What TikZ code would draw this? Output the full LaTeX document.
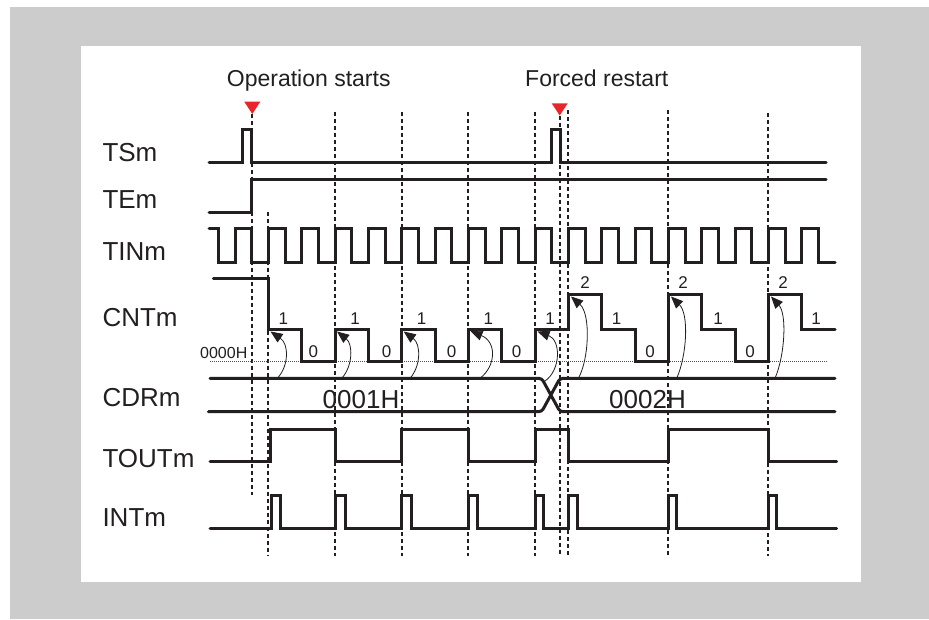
\documentclass[tikz,border=0pt]{standalone}
\usepackage{fontspec}
\setmainfont{Liberation Sans}
\usetikzlibrary{arrows.meta}
\definecolor{framegray}{RGB}{204,204,204}
\definecolor{ink}{RGB}{35,31,32}
\definecolor{mark}{RGB}{232,38,42}
\tikzset{
  sig/.style={draw=ink, line width=3pt, line cap=round, line join=miter},
  dline/.style={draw=ink, line width=1.7pt, dash pattern=on 4pt off 3pt},
  zline/.style={draw=ink!80, line width=0.7pt, dash pattern=on 1pt off 1pt},
  reload/.style={draw=ink, line width=0.8pt, -{Triangle[length=12pt,width=10pt]}},
  siglabel/.style={anchor=base west, inner sep=0pt, text=ink, font=\fontsize{26}{30}\selectfont},
  toplabel/.style={anchor=base west, inner sep=0pt, text=ink, font=\fontsize{23}{27}\selectfont},
  lvl/.style={anchor=center, inner sep=0pt, text=ink, font=\fontsize{17}{19}\selectfont},
  bigval/.style={anchor=base, inner sep=0pt, text=ink, font=\fontsize{26}{30}\selectfont},
  trig/.style={fill=mark, draw=none}
}
\begin{document}
\begin{tikzpicture}[x=1pt,y=-1pt]
\useasboundingbox (0,0) rectangle (929,619);
\fill[white] (0,0) rectangle (929,619);
\fill[framegray] (10,6.7) rectangle (929,619);
\fill[white] (80.7,45.7) rectangle (860.7,582.3);

% top labels and markers
\node[toplabel] (opstart) at (226.7,86.7) {Operation starts};
\node[toplabel] (forced) at (525,86.7) {Forced restart};
\fill[trig] (244.3,101.7) -- (260.3,101.7) -- (252.3,114) -- cycle;
\fill[trig] (551.7,103.3) -- (567.7,103.3) -- (559.7,115.5) -- cycle;

% signal names
\node[siglabel] (ts)   at (102.3,161.7) {TSm};
\node[siglabel] (te)   at (102.3,208.3) {TEm};
\node[siglabel] (tin)  at (102.3,260)   {TINm};
\node[siglabel] (cnt)  at (102.3,326)   {CNTm};
\node[siglabel] (cdr)  at (102.3,406.7) {CDRm};
\node[siglabel] (tout) at (102.3,467.7) {TOUTm};
\node[siglabel] (int)  at (102.3,526)   {INTm};

% dashed timing lines
\draw[dline] (252,114) -- (252,495);
\draw[dline] (268.3,211.7) -- (268.3,556);
\foreach \xx in {335,401.7,468.3,535}{\draw[dline] (\xx,112) -- (\xx,556);}
\draw[dline] (560,115.5) -- (560,556);
\draw[dline] (568.3,110) -- (568.3,556);
\draw[dline] (668.3,110) -- (668.3,556);
\draw[dline] (768.3,113) -- (768.3,556);

% TSm
\draw[sig] (209,162) -- (242.7,162) -- (242.7,129) -- (251.7,129) -- (251.7,162)
  -- (551.7,162) -- (551.7,129) -- (560,129) -- (560,162) -- (826,162);
% TEm
\draw[sig] (209,212.7) -- (251.7,212.7) -- (251.7,179.3) -- (826,179.3);
% TINm
\draw[sig] (209,228) -- (218.33,228) -- (218.33,262.7)
  \foreach \k in {0,...,17}{ -- ({235+33.333*\k},262.7) -- ({235+33.333*\k},228)
     -- ({251.667+33.333*\k},228) -- ({251.667+33.333*\k},262.7)}
  -- (835,262.7);

% CNTm zero reference
\draw[zline] (210,361.7) -- (827,361.7);
\node[anchor=base west, inner sep=0pt, text=ink, font=\fontsize{16}{18}\selectfont] (zero) at (200,358.3) {0000H};
% CNTm
\draw[sig] (213.3,278.3) -- (268.3,278.3) -- (268.3,329.3) -- (301.7,329.3) -- (301.7,361.7)
  -- (335,361.7) -- (335,329.3) -- (368.3,329.3) -- (368.3,361.7)
  -- (401.7,361.7) -- (401.7,329.3) -- (435,329.3) -- (435,361.7)
  -- (468.3,361.7) -- (468.3,329.3) -- (501.7,329.3) -- (501.7,361.7)
  -- (535,361.7) -- (535,329.3) -- (568.3,329.3) -- (568.3,294.5) -- (601.7,294.5)
  -- (601.7,329.3) -- (635,329.3) -- (635,361.7) -- (668.3,361.7) -- (668.3,294.5)
  -- (701.7,294.5) -- (701.7,329.3) -- (735,329.3) -- (735,361.7) -- (768.3,361.7)
  -- (768.3,294.5) -- (801.7,294.5) -- (801.7,329.3) -- (835,329.3);
% level labels
\foreach \xx in {283.3,355,421.7,488.3,550,616.7,718,816}{\node[lvl] at (\xx,319) {1};}
\foreach \xx in {313.3,386.7,451.7,516.7,650,750}{\node[lvl] at (\xx,352) {0};}
\foreach \xx in {585,683,783}{\node[lvl] at (\xx,283) {2};}

% CDRm
\draw[sig, rounded corners=3pt] (210,378.3) -- (541.7,378.3) -- (560,411.7) -- (835,411.7);
\draw[sig, rounded corners=3pt] (208.3,411.7) -- (541.7,411.7) -- (560,378.3) -- (835,378.3);
\node[bigval] (v1) at (361,408.3) {0001H};
\node[bigval] (v2) at (647.5,408.3) {0002H};

% reload arrows CDR -> CNT
\draw[reload] (277.3,378.3) .. controls (289,366) and (289,344) .. (270.5,331.5);
\draw[reload] (341.7,378.3) .. controls (353,366) and (353,344) .. (337,331.5);
\draw[reload] (410,378.3) .. controls (421,366) and (421,344) .. (403.7,331.5);
\draw[reload] (480,378.3) .. controls (496,366) and (497,342) .. (470.5,331);
\draw[reload] (545,381) .. controls (561,370) and (561,340) .. (537.5,331.5);
\draw[reload] (578.3,378.3) .. controls (589,360) and (591,314) .. (571,296.5);
\draw[reload] (676.7,378.3) .. controls (687,355) and (689,314) .. (671,296.5);
\draw[reload] (775,378.3) .. controls (785,355) and (787,314) .. (771,296.5);

% TOUTm
\draw[sig] (210,461.7) -- (270.5,461.7) -- (270.5,429.3) -- (335,429.3) -- (335,461.7)
  -- (401.7,461.7) -- (401.7,429.3) -- (468.3,429.3) -- (468.3,461.7)
  -- (535,461.7) -- (535,429.3) -- (568.3,429.3) -- (568.3,461.7)
  -- (668.3,461.7) -- (668.3,429.3) -- (768.3,429.3) -- (768.3,461.7) -- (836.7,461.7);

% INTm
\draw[sig] (210,528.3)
  \foreach \a/\b in {271/280,335/345,401.7/411.7,468.3/477.7,535/543.3,568.3/577.3,668.3/676.7,768.3/776.7}{
    -- (\a,528.3) -- (\a,495) -- (\b,495) -- (\b,528.3)}
  -- (836.7,528.3);
\end{tikzpicture}
\end{document}
